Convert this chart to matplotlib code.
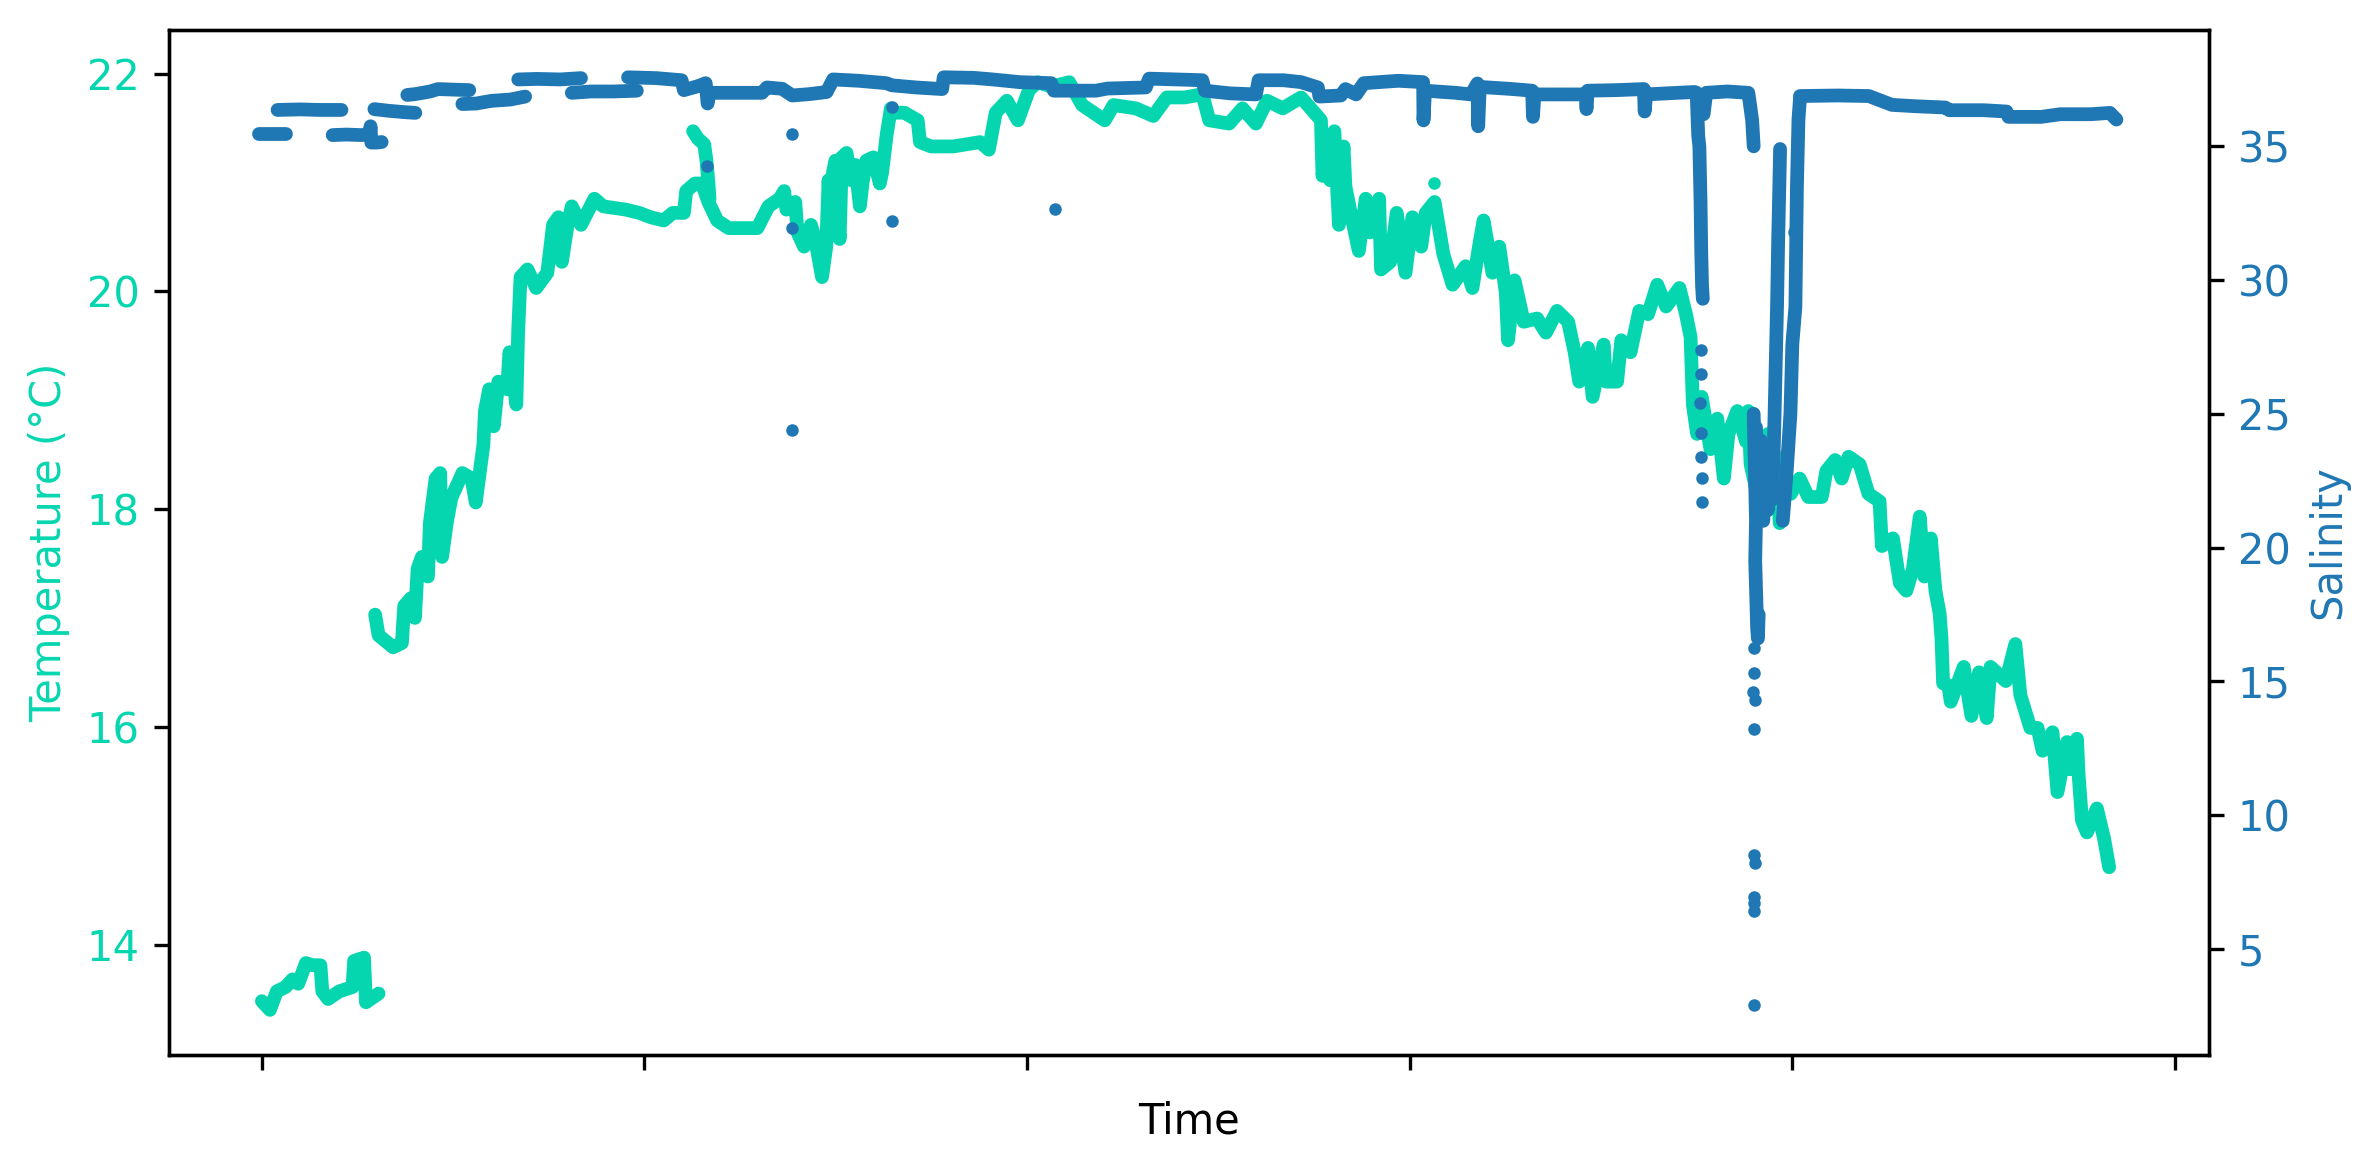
import matplotlib
matplotlib.use("Agg")
import matplotlib.pyplot as plt

temp_color = "#06d6b0"
sal_color = "#1f77b4"

# time in tick units (ticks at 0..5)
temp_a_t = [0.0, 0.021, 0.039, 0.062, 0.08, 0.095, 0.115, 0.132, 0.153, 0.158, 0.173, 0.202, 0.237, 0.241, 0.267, 0.272, 0.305]
temp_a_v = [13.48, 13.40, 13.57, 13.61, 13.68, 13.64, 13.83, 13.81, 13.81, 13.57, 13.50, 13.57, 13.61, 13.85, 13.88, 13.47, 13.55]

temp_b_t = [0.296, 0.305, 0.343, 0.366, 0.372, 0.389, 0.400, 0.407, 0.418, 0.434, 0.439, 0.454, 0.466, 0.471, 0.483, 0.495,
            0.524, 0.548, 0.559, 0.571, 0.579, 0.583, 0.594, 0.606, 0.618, 0.641, 0.647, 0.665, 0.67, 0.676, 0.694, 0.717,
            0.746, 0.761, 0.775, 0.784, 0.799, 0.81, 0.834, 0.869, 0.892, 0.951, 0.986,
            1.016, 1.05, 1.074, 1.103, 1.109, 1.132, 1.15, 1.167, 1.19, 1.22, 1.249, 1.295, 1.324, 1.353, 1.365, 1.371,
            1.394, 1.40, 1.417, 1.435, 1.446, 1.464, 1.475, 1.481, 1.487, 1.493, 1.499, 1.51, 1.516, 1.528, 1.54, 1.551,
            1.563, 1.57, 1.58, 1.598, 1.615, 1.621, 1.633, 1.644, 1.656, 1.679, 1.714, 1.72, 1.749, 1.807, 1.877, 1.90,
            1.918, 1.947, 1.976, 2.005, 2.028, 2.063, 2.11, 2.144, 2.203, 2.226, 2.284, 2.33, 2.365, 2.412, 2.458, 2.476,
            2.528, 2.563, 2.598, 2.627, 2.668,
            2.716, 2.751, 2.768, 2.772, 2.786, 2.792, 2.803, 2.815, 2.827, 2.832, 2.844, 2.867, 2.885, 2.896, 2.92, 2.925,
            2.949, 2.966, 2.989, 3.007, 3.03, 3.042, 3.065, 3.088, 3.112, 3.146, 3.164, 3.181, 3.193, 3.205, 3.216, 3.234,
            3.251, 3.257, 3.274, 3.298, 3.333, 3.356, 3.385, 3.414, 3.431, 3.443, 3.466, 3.478, 3.507, 3.513, 3.542, 3.553,
            3.577, 3.60, 3.623, 3.647, 3.67, 3.705, 3.722, 3.734, 3.74, 3.751, 3.763, 3.786, 3.804, 3.821, 3.833, 3.856,
            3.879, 3.885, 3.891, 3.908, 3.937, 3.961, 3.967, 3.984, 3.996, 4.019, 4.042, 4.077, 4.089, 4.112, 4.129, 4.147,
            4.176, 4.199, 4.228, 4.234, 4.263, 4.281, 4.298, 4.315, 4.333, 4.345, 4.362, 4.374, 4.385,
            4.39, 4.394, 4.408, 4.414, 4.448, 4.468, 4.488, 4.508, 4.518, 4.558, 4.583, 4.596, 4.622, 4.641, 4.654, 4.68,
            4.693, 4.718, 4.725, 4.744, 4.748, 4.757, 4.77, 4.796, 4.815, 4.828]
temp_b_v = [17.03, 16.84, 16.73, 16.77, 17.11, 17.18, 17.0, 17.45, 17.56, 17.38, 17.87, 18.28, 18.33, 17.56, 17.87, 18.1,
            18.33, 18.28, 18.06, 18.38, 18.59, 18.9, 19.1, 18.76, 19.17, 19.1, 19.44, 18.96, 19.65, 20.13, 20.2, 20.03,
            20.17, 20.61, 20.68, 20.27, 20.61, 20.78, 20.61, 20.85, 20.78, 20.75, 20.72,
            20.68, 20.65, 20.72, 20.72, 20.92, 20.99, 20.99, 20.82, 20.65, 20.58, 20.58, 20.58, 20.78, 20.85, 20.92, 20.75,
            20.82, 20.54, 20.41, 20.61, 20.48, 20.13, 20.41, 21.02, 20.58, 21.1, 21.2, 20.48, 21.23, 21.27, 21.02, 21.16,
            20.78, 21.0, 21.2, 21.23, 20.99, 21.09, 21.44, 21.68, 21.64, 21.64, 21.57, 21.37, 21.33, 21.33, 21.37, 21.30,
            21.64, 21.75, 21.57, 21.85, 21.92, 21.88, 21.92, 21.71, 21.57, 21.71, 21.68, 21.61, 21.78, 21.78, 21.81, 21.57,
            21.54, 21.68, 21.54, 21.75, 21.68,
            21.78, 21.64, 21.57, 21.06, 21.40, 21.02, 21.47, 20.61, 21.33, 20.96, 20.75, 20.37, 20.85, 20.54, 20.85, 20.20,
            20.27, 20.72, 20.17, 20.68, 20.41, 20.72, 20.82, 20.34, 20.06, 20.23, 20.03, 20.41, 20.65, 20.41, 20.17, 20.41,
            19.99, 19.55, 20.10, 19.72, 19.75, 19.62, 19.82, 19.72, 19.44, 19.17, 19.48, 19.03, 19.51, 19.17, 19.17, 19.55,
            19.44, 19.82, 19.79, 20.06, 19.86, 20.03, 19.79, 19.58, 18.96, 18.69, 19.03, 18.55, 18.83, 18.28, 18.69, 18.90,
            18.62, 18.90, 18.41, 18.14, 18.69, 18.41, 17.87, 18.28, 18.14, 18.28, 18.11, 18.11, 18.35, 18.45, 18.28, 18.48,
            18.41, 18.14, 18.07, 17.66, 17.73, 17.32, 17.25, 17.45, 17.93, 17.38, 17.73, 17.25, 17.04,
            16.80, 16.40, 16.38, 16.23, 16.55, 16.10, 16.5, 16.08, 16.55, 16.42, 16.76, 16.29, 15.99, 15.99, 15.78, 15.95,
            15.40, 15.86, 15.61, 15.89, 15.57, 15.14, 15.03, 15.25, 14.97, 14.71]

temp_c_t = [1.127, 1.14, 1.156, 1.162, 1.167, 1.17]
temp_c_v = [21.47, 21.40, 21.35, 21.2, 21.0, 20.85]

temp_dot_t = [3.063]
temp_dot_v = [20.99]

# salinity pieces
sal_seg_t = [
    [-0.008, 0.02, 0.062],
    [0.041, 0.10, 0.15, 0.208],
    [0.185, 0.22, 0.26, 0.282, 0.284, 0.286, 0.30, 0.313],
    [0.294, 0.33, 0.37, 0.401],
    [0.38, 0.40, 0.44, 0.46, 0.50, 0.542],
    [0.524, 0.56, 0.60, 0.65, 0.688],
    [0.67, 0.72, 0.78, 0.834],
    [0.81, 0.86, 0.92, 0.98],
    [0.957, 1.03, 1.097, 1.103, 1.14, 1.16, 1.165, 1.17, 1.23, 1.307, 1.32, 1.36, 1.386, 1.43, 1.476, 1.493, 1.56,
     1.632, 1.647, 1.71, 1.778, 1.782, 1.86, 1.91, 1.98, 2.063, 2.07, 2.18, 2.21, 2.31, 2.319, 2.39, 2.458, 2.465,
     2.53, 2.598, 2.605, 2.67, 2.716, 2.76, 2.764, 2.82, 2.832, 2.86, 2.88, 2.97, 3.035, 3.036, 3.04, 3.12, 3.16,
     3.177, 3.179, 3.183, 3.26, 3.32, 3.322, 3.326, 3.42, 3.46, 3.462, 3.465, 3.54, 3.612, 3.614, 3.618, 3.70, 3.745],
    [3.75, 3.754, 3.757, 3.76, 3.762, 3.764, 3.766],
    [3.768, 3.775, 3.83, 3.885, 3.89, 3.895, 3.899],
    [3.899, 3.902, 3.905, 3.903, 3.906, 3.908, 3.91, 3.912],
    [3.905, 3.912, 3.918, 3.924, 3.93, 3.936, 3.942, 3.947],
    [3.947, 3.952, 3.956, 3.96, 3.963, 3.966, 3.968],
    [3.975, 3.985, 3.995, 4.0, 4.008, 4.012, 4.016, 4.02],
    [4.02, 4.12, 4.2, 4.26, 4.32, 4.40, 4.41, 4.5, 4.56, 4.565, 4.65, 4.70, 4.78, 4.83, 4.847],
]
sal_seg_v = [
    [35.47, 35.47, 35.47],
    [36.36, 36.38, 36.36, 36.36],
    [35.42, 35.44, 35.42, 35.45, 35.75, 35.14, 35.14, 35.16],
    [36.39, 36.33, 36.28, 36.25],
    [36.92, 36.95, 37.05, 37.14, 37.12, 37.10],
    [36.58, 36.6, 36.7, 36.75, 36.86],
    [37.5, 37.52, 37.5, 37.55],
    [37.0, 37.05, 37.05, 37.08],
    [37.58, 37.55, 37.47, 37.1, 37.25, 37.36, 36.6, 37.0, 37.0, 37.0, 37.2, 37.15, 36.9, 36.95, 37.03, 37.5, 37.45,
     37.36, 37.28, 37.2, 37.14, 37.58, 37.56, 37.5, 37.4, 37.36, 37.08, 37.08, 37.16, 37.2, 37.53, 37.5, 37.47, 37.08,
     36.98, 36.94, 37.47, 37.47, 37.4, 37.2, 36.86, 36.9, 37.14, 36.94, 37.36, 37.45, 37.4, 35.97, 37.08, 37.0, 36.94,
     37.35, 35.75, 37.22, 37.15, 37.08, 36.1, 36.94, 36.94, 36.94, 36.39, 37.08, 37.1, 37.14, 36.3, 36.94, 37.0, 37.03],
    [37.0, 35.4, 35.0, 33.0, 31.0, 29.8, 29.3],
    [36.2, 37.0, 37.05, 37.0, 36.5, 35.97, 35.0],
    [25.0, 23.0, 21.0, 19.5, 18.0, 17.0, 16.6, 17.5],
    [24.5, 21.2, 24.0, 21.0, 23.6, 21.4, 23.2, 21.8],
    [21.8, 24.0, 26.5, 29.0, 31.5, 33.5, 34.9],
    [21.0, 22.8, 25.0, 27.6, 29.0, 33.5, 36.0, 36.8],
    [36.88, 36.9, 36.88, 36.55, 36.5, 36.45, 36.35, 36.35, 36.3, 36.1, 36.1, 36.2, 36.2, 36.25, 36.0],
]

sal_dot_t = [1.163, 1.385, 1.385, 1.385, 1.646, 1.646, 2.072,
             3.76, 3.762, 3.758, 3.761, 3.762, 3.763, 3.764,
             4.006, 4.005,
             3.899, 3.901, 3.898, 3.902, 3.9, 3.901, 3.902, 3.9, 3.901, 3.899, 3.901]
sal_dot_v = [34.25, 35.47, 31.94, 24.4, 36.47, 32.2, 32.64,
             27.4, 26.5, 25.4, 24.3, 23.4, 22.6, 21.7,
             30.7, 31.8,
             16.25, 15.3, 14.6, 14.3, 13.2, 8.5, 8.2, 6.95, 6.7, 6.4, 2.9]

x_ticks = [0, 1, 2, 3, 4, 5]

fig = plt.figure(figsize=(2369 / 300, 1170 / 300), dpi=300)
ax = fig.add_axes([0.0713, 0.0987, 0.861, 0.8757])
ax2 = ax.twinx()

lw = 3.3
for t, v in [(temp_a_t, temp_a_v), (temp_b_t, temp_b_v), (temp_c_t, temp_c_v)]:
    ax.plot(t, v, color=temp_color, lw=lw, solid_capstyle="round", solid_joinstyle="round")
ax.scatter(temp_dot_t, temp_dot_v, color=temp_color, s=4)

for t, v in zip(sal_seg_t, sal_seg_v):
    ax2.plot(t, v, color=sal_color, lw=lw, solid_capstyle="round", solid_joinstyle="round")
ax2.scatter(sal_dot_t, sal_dot_v, color=sal_color, s=4)

ax.set_xlim(-0.243, 5.088)
ax.set_ylim(12.99, 22.40)
ax2.set_ylim(1.05, 39.35)

ax.set_xticks(x_ticks)
ax.set_xticklabels([])
ax.set_xlabel("Time")
ax.set_ylabel("Temperature (°C)", color=temp_color)
ax.tick_params(axis="y", labelcolor=temp_color)
ax2.set_ylabel("Salinity", color=sal_color)
ax2.tick_params(axis="y", labelcolor=sal_color)

fig.savefig("out.png", dpi=300)
